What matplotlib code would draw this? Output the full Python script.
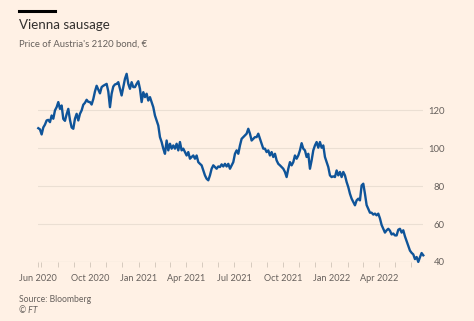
import matplotlib
matplotlib.use("Agg")
import matplotlib.pyplot as plt
import matplotlib.dates as mdates
import pandas as pd

# price of Austria's 2120 bond (roughly every 3 days)
prices = [
    110.6, 110.0, 107.3, 111.0, 112.5, 114.7, 115.0, 113.8, 117.3, 115.6,
    120.0, 121.7, 124.4, 120.8, 122.6, 115.5, 114.5, 118.0, 120.8, 115.0,
    111.0, 110.3, 115.6, 118.2, 114.7, 118.2, 120.0, 123.0, 124.0, 125.6,
    124.5, 124.4, 123.1, 126.0, 130.0, 133.0, 131.0, 129.0, 132.3, 133.0,
    133.5, 134.0, 130.0, 121.7, 128.8, 132.6, 133.7, 134.0, 134.9, 131.4,
    127.9, 132.3, 136.7, 139.3, 134.0, 131.4, 134.9, 132.3, 132.3, 134.0,
    135.4, 131.4, 124.4, 129.6, 127.0, 128.8, 125.2, 127.0, 124.4, 121.7,
    117.3, 114.7, 112.0, 105.9, 103.3, 99.8, 97.1, 104.1, 98.9, 102.4,
    99.8, 101.5, 99.8, 102.4, 98.9, 103.3, 98.9, 99.8, 98.0, 96.2,
    98.0, 94.5, 95.4, 96.2, 94.5, 96.2, 92.7, 91.8, 91.0, 88.3,
    85.7, 83.9, 83.1, 85.7, 89.2, 91.0, 90.1, 89.2, 90.4, 90.1,
    91.5, 90.4, 91.8, 90.4, 91.8, 89.2, 91.0, 92.7, 97.1, 98.9,
    97.1, 101.5, 105.0, 105.9, 106.8, 107.7, 110.3, 107.7, 104.1, 105.0,
    105.9, 105.9, 107.7, 105.0, 102.4, 99.8, 99.8, 98.0, 98.9, 96.2,
    98.0, 95.4, 97.1, 93.6, 91.8, 91.0, 90.1, 89.2, 87.5, 84.8,
    89.2, 92.7, 91.0, 92.7, 96.2, 94.5, 96.2, 98.9, 102.7, 99.8,
    98.9, 95.4, 97.1, 89.2, 93.6, 98.9, 101.5, 103.3, 100.3, 103.3,
    100.3, 101.5, 95.4, 92.7, 90.1, 85.7, 84.8, 85.2, 84.8, 88.3,
    85.7, 87.5, 84.8, 87.5, 85.7, 82.2, 79.5, 76.0, 73.4, 71.6,
    69.9, 72.5, 73.4, 72.5, 80.4, 81.3, 76.0, 70.0, 68.0, 66.0,
    66.0, 65.0, 65.5, 64.6, 65.5, 63.0, 59.5, 57.5, 55.5, 56.7,
    57.5, 56.5, 54.5, 55.0, 54.0, 54.0, 57.0, 57.5, 55.5, 56.7,
    53.5, 51.0, 48.5, 46.0, 44.8, 44.0, 41.5, 42.6, 40.0, 42.5,
    44.7, 43.5,
]
start_date = "2020-06-25"
end_date = "2022-06-24"
dates = pd.date_range(start_date, end_date, periods=len(prices))

tick_dates = pd.to_datetime([start_date, "2020-10-01", "2021-01-01", "2021-04-01",
                             "2021-07-01", "2021-10-01", "2022-01-01", "2022-04-01"])
tick_labels = ["Jun 2020", "Oct 2020", "Jan 2021", "Apr 2021",
               "Jul 2021", "Oct 2021", "Jan 2022", "Apr 2022"]
y_ticks = [40, 60, 80, 100, 120]

bg = "#fff1e5"
grey = "#66605c"
plt.rcParams["font.family"] = ["Lato", "DejaVu Sans"]

fig = plt.figure(figsize=(4.74, 3.21), dpi=100, facecolor=bg)
ax = fig.add_axes([0.0808, 0.184, 0.8122, 0.596])
ax.set_facecolor(bg)

ax.plot(dates, prices, color="#0f5499", lw=1.7, clip_on=False, zorder=3,
        solid_joinstyle="round")

ax.set_xlim(pd.Timestamp(start_date), pd.Timestamp(end_date))
ax.set_ylim(40, 141)

for s in ax.spines.values():
    s.set_visible(False)

ax.set_yticks(y_ticks)
ax.yaxis.tick_right()
ax.grid(axis="y", color="#ebdfd3", lw=0.8)
ax.axhline(40, color="#d9ccc0", lw=0.8, zorder=2)
ax.tick_params(axis="y", length=0, pad=15.6, labelsize=6.8, labelcolor=grey)
for lab in ax.get_yticklabels():
    lab.set_horizontalalignment("right")

ax.set_xticks(tick_dates)
ax.set_xticklabels(tick_labels)
ax.xaxis.set_minor_locator(mdates.MonthLocator())
ax.tick_params(axis="x", which="both", length=3.5, width=0.6, color="#d0c4b8",
               labelsize=6.6, labelcolor=grey, pad=5)

# header and footer
fig.add_artist(plt.Line2D([19 / 474, 55 / 474], [1 - 10.5 / 321] * 2,
                          color="black", lw=2.2))
fig.text(19 / 474, 1 - 29 / 321, "Vienna sausage", fontsize=9.6, color="#33302e",
         va="baseline")
fig.text(19 / 474, 1 - 46.5 / 321, "Price of Austria's 2120 bond, €", fontsize=6.8,
         color=grey, va="baseline")
fig.text(19 / 474, 1 - 302.5 / 321, "Source: Bloomberg", fontsize=6.2, color=grey,
         va="baseline")
fig.text(19 / 474, 1 - 313 / 321, "© FT", fontsize=6.2, color=grey, style="italic",
         va="baseline")

fig.savefig("out.png", dpi=100, facecolor=bg)
